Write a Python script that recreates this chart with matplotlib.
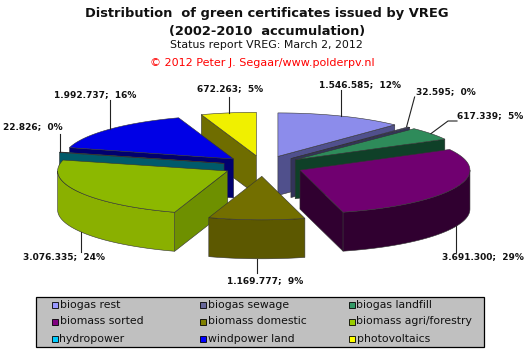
import numpy as np
import matplotlib
matplotlib.use('Agg')
import matplotlib.pyplot as plt
from matplotlib.patches import Polygon, Rectangle

# data
names = ['biogas rest', 'biogas sewage', 'biogas landfill',
         'biomass sorted', 'biomass domestic', 'biomass agri/forestry',
         'hydropower', 'windpower land', 'photovoltaics']
values = [1546585, 32595, 617339, 3691300, 1169777, 3076335, 22826, 1992737, 672263]
labels = ['1.546.585;  12%', '32.595;  0%', '617.339;  5%', '3.691.300;  29%', '1.169.777;  9%',
          '3.076.335;  24%', '22.826;  0%', '1.992.737;  16%', '672.263;  5%']

# colours
legend_colors = ['#9999FF', '#666699', '#339966', '#800080', '#808000', '#99CC00', '#00CCFF', '#0000FF', '#FFFF00']
top_colors = ['#8C8CEB', '#50508C', '#2E8B5A', '#700070', '#736F00', '#8CB800', '#00A0C0', '#0000E6', '#F0F000']
cut_colors = ['#50508C', '#33335A', '#0F4028', '#300030', '#5C5800', '#6E9000', '#005A6A', '#00006F', '#6F6D00']
wall_colors = ['#50508C', '#33335A', '#0F4028', '#300030', '#5C5800', '#8AB000', '#005A6A', '#00006F', '#6F6D00']

# pie geometry, in pixels
cx, cy = 263, 166
rx, ry = 170, 43.5
depth = 39
explode = 0.237

# label layout: centre x, y, leader end y, leader shift along the rim (deg), elbow x
label_pos = [(360, 85, 90, 0, None), (446, 92, 97, -1, None), (490, 116, 121, 0, 457),
             (483, 257, 252, 0, None), (265, 281, 273, 0, None),
             (64, 257, 252, -2, None), (33, 127, 134, 0, None), (95, 95, 100, 0, None), (230, 89, 97, 0, None)]

fig = plt.figure(figsize=(5.31, 3.55), dpi=100)
ax = fig.add_axes([0, 0, 1, 1])
ax.set_xlim(0, 531)
ax.set_ylim(355, 0)
ax.axis('off')


def rim(ax0, ay0, deg):
    t = np.radians(deg)
    return ax0 + rx * np.sin(t), ay0 - ry * np.cos(t)


angles = np.cumsum([0] + values) / sum(values) * 360
mids = (angles[:-1] + angles[1:]) / 2
apex = [(cx + explode * rx * np.sin(np.radians(m)), cy - explode * ry * np.cos(np.radians(m))) for m in mids]

edge = '#333333'
# back to front
for i in sorted(range(len(values)), key=lambda k: -np.cos(np.radians(mids[k]))):
    a, b = angles[i], angles[i + 1]
    x0, y0 = apex[i]
    # cut faces
    for deg, show in ((a, np.sin(np.radians(a)) < 0), (b, np.sin(np.radians(b)) > 0)):
        if show:
            px, py = rim(x0, y0, deg)
            ax.add_patch(Polygon([(x0, y0), (px, py), (px, py + depth), (x0, y0 + depth)],
                                 fc=cut_colors[i], ec=edge, lw=0.4, zorder=2))
    # outer wall, front part only
    lo, hi = max(a, 90), min(b, 270)
    if hi > lo:
        th = np.linspace(lo, hi, 80)
        px, py = rim(x0, y0, th)
        pts = np.r_[np.c_[px, py], np.c_[px, py + depth][::-1]]
        ax.add_patch(Polygon(pts, fc=wall_colors[i], ec=edge, lw=0.4, zorder=2))
    # top
    th = np.linspace(a, b, 80)
    px, py = rim(x0, y0, th)
    ax.add_patch(Polygon(np.r_[[(x0, y0)], np.c_[px, py]], fc=top_colors[i], ec=edge, lw=0.4, zorder=2))

# leaders and labels
for i, (tx, ty, ley, shift, elbow) in enumerate(label_pos):
    x0, y0 = apex[i]
    px, py = rim(x0, y0, mids[i] + shift)
    if 90 < (mids[i] + shift) < 270:
        py += depth
    if elbow:
        ax.plot([px, elbow - 9, elbow], [py, ley, ley], color='#222222', lw=0.8, zorder=6)
    elif i == 1:
        ax.plot([px, px + 8], [py, ley], color='#222222', lw=0.8, zorder=6)
    else:
        ax.plot([px, px], [py, ley], color='#222222', lw=0.8, zorder=6)
    ax.text(tx, ty, labels[i], fontsize=6.45, fontweight='bold', family='DejaVu Sans',
            ha='center', va='center', color='#111111', zorder=7)

# titles
ax.text(267, 13.5, 'Distribution  of green certificates issued by VREG', fontsize=9.4, fontweight='bold',
        family='DejaVu Sans', ha='center', va='center', color='#111111')
ax.text(267, 31, '(2002-2010  accumulation)', fontsize=9.4, fontweight='bold',
        family='DejaVu Sans', ha='center', va='center', color='#111111')
ax.text(266.5, 44.5, 'Status report VREG: March 2, 2012', fontsize=7.9, family='DejaVu Sans',
        ha='center', va='center', color='#111111')
ax.text(262, 62.5, '© 2012 Peter J. Segaar/www.polderpv.nl', fontsize=8, family='DejaVu Sans',
        ha='center', va='center', color='#FF0000')

# legend
ax.add_patch(Rectangle((36, 296.5), 448, 50, fc='#C0C0C0', ec='black', lw=0.9, zorder=8))
col_x = [52, 200, 349]
row_y = [304.5, 321.5, 338.5]
for i, name in enumerate(names):
    lx, ly = col_x[i % 3], row_y[i // 3]
    ax.add_patch(Rectangle((lx, ly - 3), 6, 6, fc=legend_colors[i], ec='black', lw=0.6, zorder=9))
    ax.text(lx + 7.5, ly, name, fontsize=7.8, family='DejaVu Sans', ha='left', va='center',
            color='#111111', zorder=9)

fig.savefig('out.png', dpi=100)
